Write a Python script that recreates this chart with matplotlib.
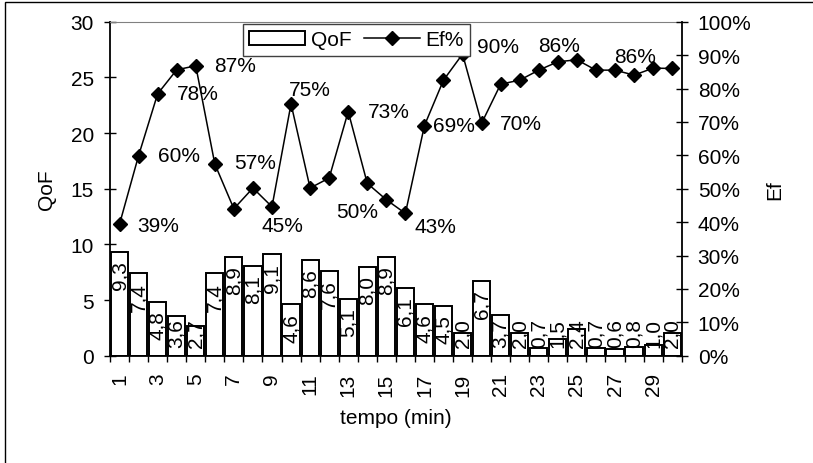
import matplotlib
matplotlib.use("Agg")
import matplotlib.pyplot as plt
from matplotlib.ticker import PercentFormatter, FixedLocator
from matplotlib.patches import Rectangle

plt.rcParams["font.family"] = ["Liberation Sans", "DejaVu Sans"]
plt.rcParams["font.size"] = 15

# dados
minutes = list(range(1, 31))
qof = [9.3, 7.4, 4.8, 3.6, 2.7, 7.4, 8.9, 8.1, 9.1, 4.6,
       8.6, 7.6, 5.1, 8.0, 8.9, 6.1, 4.6, 4.5, 2.0, 6.7,
       3.7, 2.0, 0.7, 1.5, 2.4, 0.7, 0.6, 0.8, 1.0, 2.0]
ef = [39.4, 59.9, 78.4, 85.6, 86.8, 57.4, 44.0, 50.2, 44.6, 75.4,
      50.2, 53.2, 73.1, 51.6, 46.7, 42.6, 68.9, 82.5, 90.3, 69.6,
      81.3, 82.5, 85.5, 88.0, 88.6, 85.5, 85.5, 84.0, 86.1, 86.0]
# rotulos da serie Ef (minuto -> texto)
ef_labels = {1: "39%", 2: "60%", 3: "78%", 5: "87%", 6: "57%", 9: "45%",
             10: "75%", 13: "73%", 14: "50%", 16: "43%", 17: "69%",
             19: "90%", 20: "70%", 24: "86%", 28: "86%"}
# deslocamento dos rotulos (pixels)
label_offsets = {1: (39, -1), 2: (40, 0), 3: (40, 0), 5: (39, 0), 6: (40, 1),
                 9: (10, -19), 10: (19, 14), 13: (41, 0), 14: (-10, -28),
                 16: (30, -13), 17: (30, 0), 19: (35, 8), 20: (39, 0),
                 24: (1, 16), 28: (1, 19)}

fig = plt.figure(figsize=(8.13, 4.64), dpi=100)
ax = fig.add_axes([110 / 813, 1 - 356.7 / 464, 571.7 / 813, 334 / 464])
ax2 = ax.twinx()

x = list(range(len(minutes)))
bars = ax.bar(x, qof, width=0.9, color="white", edgecolor="black",
              linewidth=1.4, label="QoF", zorder=2)

# rotulos das barras (virgula decimal)
for xi, v in zip(x, qof):
    txt = f"{v:.1f}".replace(".", ",")
    if v - 0.75 - 2.7 < 0.75:
        ax.text(xi, 0.75, txt, rotation=90, ha="center", va="bottom", zorder=3)
    else:
        ax.text(xi, v - 0.75, txt, rotation=90, ha="center", va="top", zorder=3)

ef_frac = [e / 100 for e in ef]
line, = ax2.plot(x, ef_frac, color="black", lw=1.1, marker="D",
                 markersize=6.8, label="Ef%", zorder=4)

for m, txt in ef_labels.items():
    i = minutes.index(m)
    ax2.annotate(txt, (x[i], ef_frac[i]), xytext=label_offsets[m],
                 textcoords="offset pixels", ha="center", va="center")

ax.set_xlim(-0.5, len(minutes) - 0.5)
ax.set_ylim(0, 30)
ax2.set_ylim(0, 1)
ax.set_yticks(range(0, 31, 5))
ax2.set_yticks([i / 10 for i in range(11)])
ax2.yaxis.set_major_formatter(PercentFormatter(xmax=1, decimals=0))

ax.set_xticks(x[::2])
ax.set_xticklabels([str(m) for m in minutes[::2]], rotation=90)
ax.xaxis.set_minor_locator(FixedLocator([i - 0.5 for i in range(len(minutes) + 1)]))
ax.tick_params(axis="x", which="major", length=0, pad=12)
ax.tick_params(axis="x", which="minor", length=4.5, width=1, direction="out")
ax.tick_params(axis="y", direction="inout", length=9, width=1, pad=7)
ax2.tick_params(axis="y", direction="inout", length=9, width=1, pad=7)

for s in ["left", "bottom"]:
    ax.spines[s].set_linewidth(1.3)
ax.spines["right"].set_visible(False)
ax.spines["top"].set_color("#808080")
for s in ["left", "bottom", "top"]:
    ax2.spines[s].set_visible(False)
ax2.spines["right"].set_linewidth(1.3)

ax.set_ylabel("QoF")
ax.yaxis.set_label_coords(-0.094, 0.5)
ax2.set_ylabel("Ef")
ax2.yaxis.set_label_coords(1.147, 0.5)
ax.set_xlabel("tempo (min)")
ax.xaxis.set_label_coords(0.5, -0.158)

leg = ax2.legend([bars, line], ["QoF", "Ef%"], ncol=2, loc="upper left",
                 bbox_to_anchor=(0.2325, 0.993), borderaxespad=0,
                 fancybox=False, edgecolor="#404040", framealpha=1,
                 handlelength=2.7, handleheight=0.7, handletextpad=0.25,
                 columnspacing=0.6, borderpad=0.3)
leg.get_frame().set_linewidth(1.0)

# borda da area do grafico
fig.add_artist(Rectangle((5 / 813, -0.05), 2, 1.05 - 3 / 464,
                         transform=fig.transFigure, fill=False,
                         edgecolor="black", linewidth=1.0))

fig.savefig("out.png", dpi=100)
